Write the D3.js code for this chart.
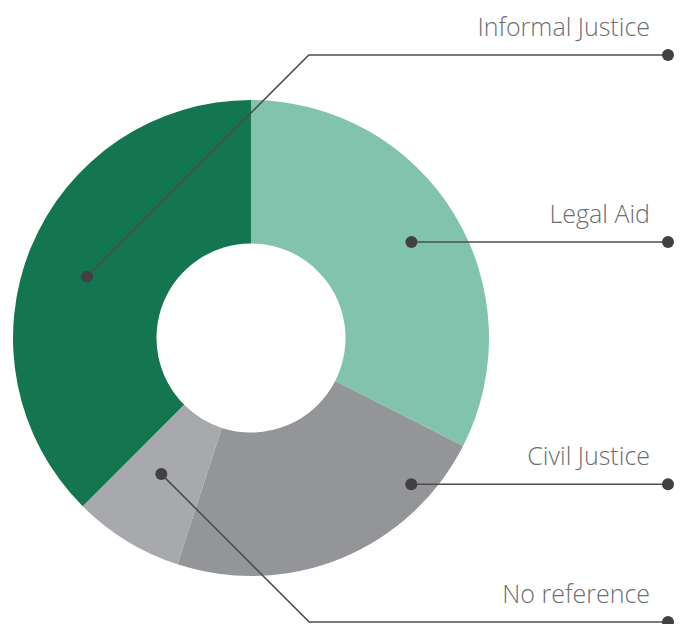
<!DOCTYPE html>
<html>
<head>
<meta charset="utf-8">
<script src="https://cdn.jsdelivr.net/npm/d3@7"></script>
<style>
  html, body { margin: 0; padding: 0; background: #fff; }
  svg { display: block; }
  .callout-label { font-family: "Open Sans", "Noto Sans", sans-serif; font-weight: 300; fill: #6d6e71; }
</style>
</head>
<body>
<div id="chart"></div>
<script>
// data
const categories = ['Legal Aid', 'Civil Justice', 'No reference', 'Informal Justice'];
const shares = [32.5, 22.5, 7.5, 37.5];
const colors = ['#82c3ad', '#939598', '#a7a9ac', '#137650'];

// callout layout: where the dot sits inside its slice (fraction of the slice angle, radius)
// and the y of the horizontal leader for labels that bend
const dotAt = [0.505, 0.19, 0.57, 0.485];
const dotRadius = [187, 217, 163, 175];
const bendY = [null, null, 622, 55];

const width = 683, height = 624;
const cx = 251, cy = 338;
const outerR = 238, innerR = 94.5;
const lineEndX = 668, textEndX = 650;

const svg = d3.select('#chart').append('svg')
    .attr('width', width)
    .attr('height', height);

const g = svg.append('g')
    .attr('transform', `translate(${cx},${cy})`);

const data = categories.map((c, i) => ({ name: c, value: shares[i], color: colors[i], i }));

const pie = d3.pie()
    .sort(null)
    .value(d => d.value);

const arc = d3.arc()
    .innerRadius(innerR)
    .outerRadius(outerR);

const arcs = pie(data);

g.selectAll('.slice')
    .data(arcs)
    .join('path')
    .attr('class', 'slice')
    .attr('d', arc)
    .attr('fill', d => d.data.color);

// callouts
const callouts = svg.append('g');

arcs.forEach(d => {
    const i = d.data.i;
    const a = d.startAngle + (d.endAngle - d.startAngle) * dotAt[i];
    const dx = cx + dotRadius[i] * Math.sin(a);
    const dy = cy - dotRadius[i] * Math.cos(a);

    let pts;
    let lineY;
    if (bendY[i] == null) {
        lineY = dy;
        pts = [[dx, dy], [lineEndX, dy]];
    } else {
        lineY = bendY[i];
        const elbowX = dx + Math.abs(lineY - dy);
        pts = [[dx, dy], [elbowX, lineY], [lineEndX, lineY]];
    }

    callouts.append('path')
        .attr('d', d3.line()(pts))
        .attr('fill', 'none')
        .attr('stroke', '#4d4d4f')
        .attr('stroke-width', 1.6);

    callouts.append('circle')
        .attr('cx', dx)
        .attr('cy', dy)
        .attr('r', 6)
        .attr('fill', '#414042');

    callouts.append('circle')
        .attr('cx', lineEndX)
        .attr('cy', lineY)
        .attr('r', 6)
        .attr('fill', '#414042');

    callouts.append('text')
        .attr('class', 'callout-label')
        .attr('x', textEndX)
        .attr('y', lineY - 19)
        .attr('text-anchor', 'end')
        .style('font-size', '25px')
        .text(d.data.name);
});
</script>
</body>
</html>
